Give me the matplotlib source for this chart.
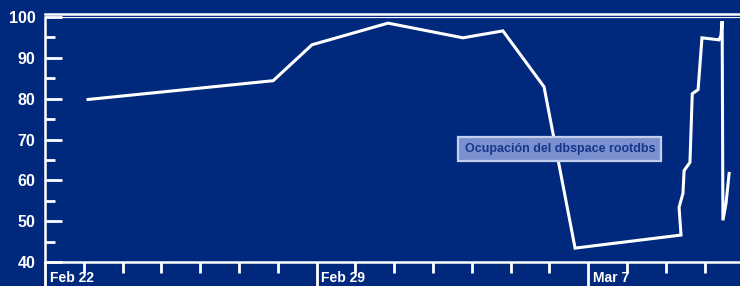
import matplotlib
matplotlib.use("Agg")
import matplotlib.pyplot as plt
from matplotlib.transforms import blended_transform_factory

plt.rcParams['font.family'] = ['Liberation Sans', 'DejaVu Sans']

# days since Feb 22 00:00, dbspace occupation (%)
days = [1.11, 5.88, 6.88, 8.84, 10.77, 11.80, 12.86, 13.66, 16.39, 16.34,
        16.44, 16.47, 16.62, 16.68, 16.83, 16.93, 17.37, 17.42, 17.45, 17.47,
        17.55, 17.63]
ocupacion = [79.8, 84.4, 93.2, 98.5, 94.9, 96.6, 82.9, 43.4, 46.6, 53.4,
             56.8, 62.4, 64.4, 81.2, 82.2, 94.9, 94.4, 95.5, 99.0, 50.2,
             54.4, 61.7]
week_ticks = [0, 7, 14]
week_labels = ["Feb 22", "Feb 29", "Mar 7"]
serie = "Ocupación del dbspace rootdbs"

bg = '#00297d'
fig = plt.figure(figsize=(7.4, 2.86), dpi=100, facecolor=bg)
ax = fig.add_axes([45 / 740, 24 / 286, 1 - 45 / 740, 245 / 286], facecolor=bg)

ax.plot(days, ocupacion, color='white', lw=2.2, solid_joinstyle='miter')

ax.set_xlim(0, 17.91)
ax.set_ylim(40, 100)

ax.spines['right'].set_visible(False)
for s in ['left', 'bottom', 'top']:
    ax.spines[s].set_color('white')
    ax.spines[s].set_linewidth(1.8)
ax.axhline(100, color='white', lw=1.6)
ax.spines['top'].set_position(('outward', 2.5))

ax.set_yticks(range(40, 101, 10))
ax.set_yticks(range(45, 100, 10), minor=True)
ax.tick_params(axis='y', which='major', direction='in', length=12, width=2,
               color='white', labelcolor='white', labelsize=11.5, pad=7)
ax.tick_params(axis='y', which='minor', direction='in', length=7, width=2,
               color='white')
for t in ax.get_yticklabels():
    t.set_fontweight('bold')

ax.set_xticks(week_ticks)
ax.set_xticks([d for d in range(1, 18) if d not in week_ticks], minor=True)
ax.tick_params(axis='x', which='major', direction='out', length=25, width=2,
               color='white', labelbottom=False)
ax.tick_params(axis='x', which='minor', direction='out', length=8, width=2,
               color='white')

tr = blended_transform_factory(ax.transData, fig.transFigure)
for d, lab in zip(week_ticks, week_labels):
    ax.text(d + 0.12, 8 / 286, lab, transform=tr, color='white',
            fontsize=10, fontweight='bold', ha='left', va='center')

ax.text(0.741, 0.462, serie, transform=ax.transAxes, ha='center', va='center',
        color='#17378c', fontsize=9, fontweight='bold',
        bbox=dict(boxstyle='square,pad=0.5', facecolor='#7a90cf',
                  edgecolor='#c4cdee', linewidth=1.6))

fig.savefig('out.png', dpi=100, facecolor=bg)
